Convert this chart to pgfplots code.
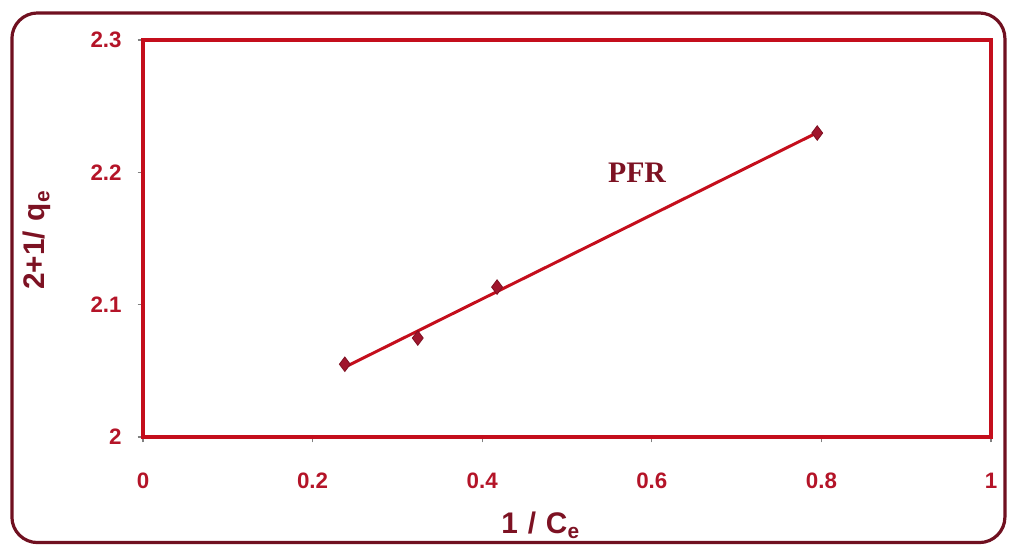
\documentclass[border=0pt]{standalone}
\usepackage{pgfplots}
\pgfplotsset{compat=1.18}
\usepackage{fontspec}
\setmainfont{Liberation Sans}
\newfontfamily\seriffont{Liberation Serif}
\definecolor{axred}{RGB}{196,14,28}
\definecolor{txtred}{RGB}{180,20,40}
\definecolor{lblred}{RGB}{125,18,35}
\definecolor{mkred}{RGB}{160,22,45}
\definecolor{border}{RGB}{112,16,32}
\begin{document}
\begin{tikzpicture}
\useasboundingbox (-67.2pt,-51.2pt) rectangle (410.3pt,205.4pt);
\draw[border, line width=1.5pt, rounded corners=12pt] (-61.6pt,-49.6pt) rectangle (405.1pt,199.3pt);
\begin{axis}[
  scale only axis,
  width=398.6pt, height=186.6pt,
  xmin=0, xmax=1, ymin=2, ymax=2.3,
  xtick={0,0.2,0.4,0.6,0.8,1},
  ytick={2,2.1,2.2,2.3},
  xticklabels={0,0.2,0.4,0.6,0.8,1},
  yticklabels={2,2.1,2.2,2.3},
  axis line style={axred, line width=1.9pt},
  tick align=outside,
  major tick length=2.5pt,
  tick style={gray, line width=0.6pt},
  xtick pos=bottom, ytick pos=left,
  ticklabel style={font=\fontsize{10.5}{12}\selectfont\bfseries, text=txtred},
  xticklabel style={yshift=-11pt},
  yticklabel style={xshift=-4pt},
  xlabel={1\,\,/\,\,C\textsubscript{e}},
  ylabel={2+1/\,\,q\textsubscript{e}},
  label style={font=\fontsize{14}{16}\selectfont\bfseries, text=lblred},
  xlabel style={at={(axis description cs:0.469,-0.222)}, anchor=center},
  ylabel style={at={(axis description cs:-0.125,0.496)}, anchor=center},
  clip=false,
]
\addplot[axred, line width=1.4pt, no marks] coordinates {(0.238,2.0528) (0.795,2.2300)};
\addplot[only marks, mark=diamond*, mark size=3.4pt, mark options={fill=mkred, draw=mkred!80!black}] coordinates {
  (0.238,2.055) (0.324,2.0748) (0.4175,2.1133) (0.795,2.2297)
};
\node[font=\seriffont\fontsize{14}{16}\selectfont\bfseries, text=lblred] at (axis cs:0.5825,2.1995) {PFR};
\end{axis}
\end{tikzpicture}
\end{document}
